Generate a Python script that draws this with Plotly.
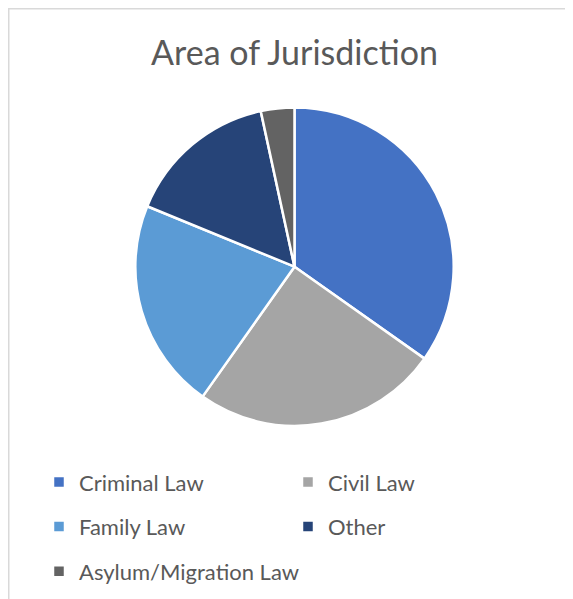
import plotly.graph_objects as go

# Data
categories = ["Criminal Law", "Civil Law", "Family Law", "Other", "Asylum/Migration Law"]
values = [34.8, 25.0, 21.4, 15.4, 3.4]
colors = ["#4472C4", "#A5A5A5", "#5B9BD5", "#264478", "#636363"]

# The page body has an 8px default margin; size the figure to fit the window
OFF = 8
W, H = 573 - OFF, 599 - OFF
FONT = "Lato"
TEXT_COLOR = "#595959"

# pie geometry (figure pixels)
cx, cy, r = 294.5 - OFF, 268 - OFF, 160

legend_labels = ['<span style="font-size:22px;baseline-shift:4px">%s</span>' % c
                 for c in categories]

fig = go.Figure(
    go.Pie(
        labels=legend_labels,
        values=values,
        sort=False,
        direction="clockwise",
        rotation=0,
        textinfo="none",
        hoverinfo="label+percent",
        marker=dict(colors=colors, line=dict(color="white", width=2.5)),
        domain=dict(x=[(cx - r) / W, (cx + r) / W],
                    y=[(H - cy - r) / H, (H - cy + r) / H]),
    )
)

fig.update_layout(
    width=W, height=H,
    margin=dict(l=0, r=0, t=0, b=0),
    paper_bgcolor="white",
    plot_bgcolor="white",
    font=dict(family=FONT, color=TEXT_COLOR),
    title=dict(
        text="Area of Jurisdiction",
        x=(294.5 - OFF) / W, xanchor="center",
        y=1 - (53.5 - OFF) / H, yanchor="middle",
        xref="container", yref="container",
        font=dict(family=FONT, size=34, color=TEXT_COLOR),
    ),
    showlegend=True,
    legend=dict(
        orientation="h",
        x=31 / W, xanchor="left",
        y=1 - 449 / H, yanchor="top",
        font=dict(family=FONT, size=32, color=TEXT_COLOR),
        entrywidth=204, entrywidthmode="pixels",
        bgcolor="rgba(0,0,0,0)",
        itemclick=False, itemdoubleclick=False,
    ),
    shapes=[
        dict(type="rect", xref="paper", yref="paper",
             x0=0.75 / W, x1=1.2, y0=-0.2, y1=1 - 0.75 / H,
             line=dict(color="#D9D9D9", width=1.5), layer="below"),
    ],
)

fig.write_html("out.html")
